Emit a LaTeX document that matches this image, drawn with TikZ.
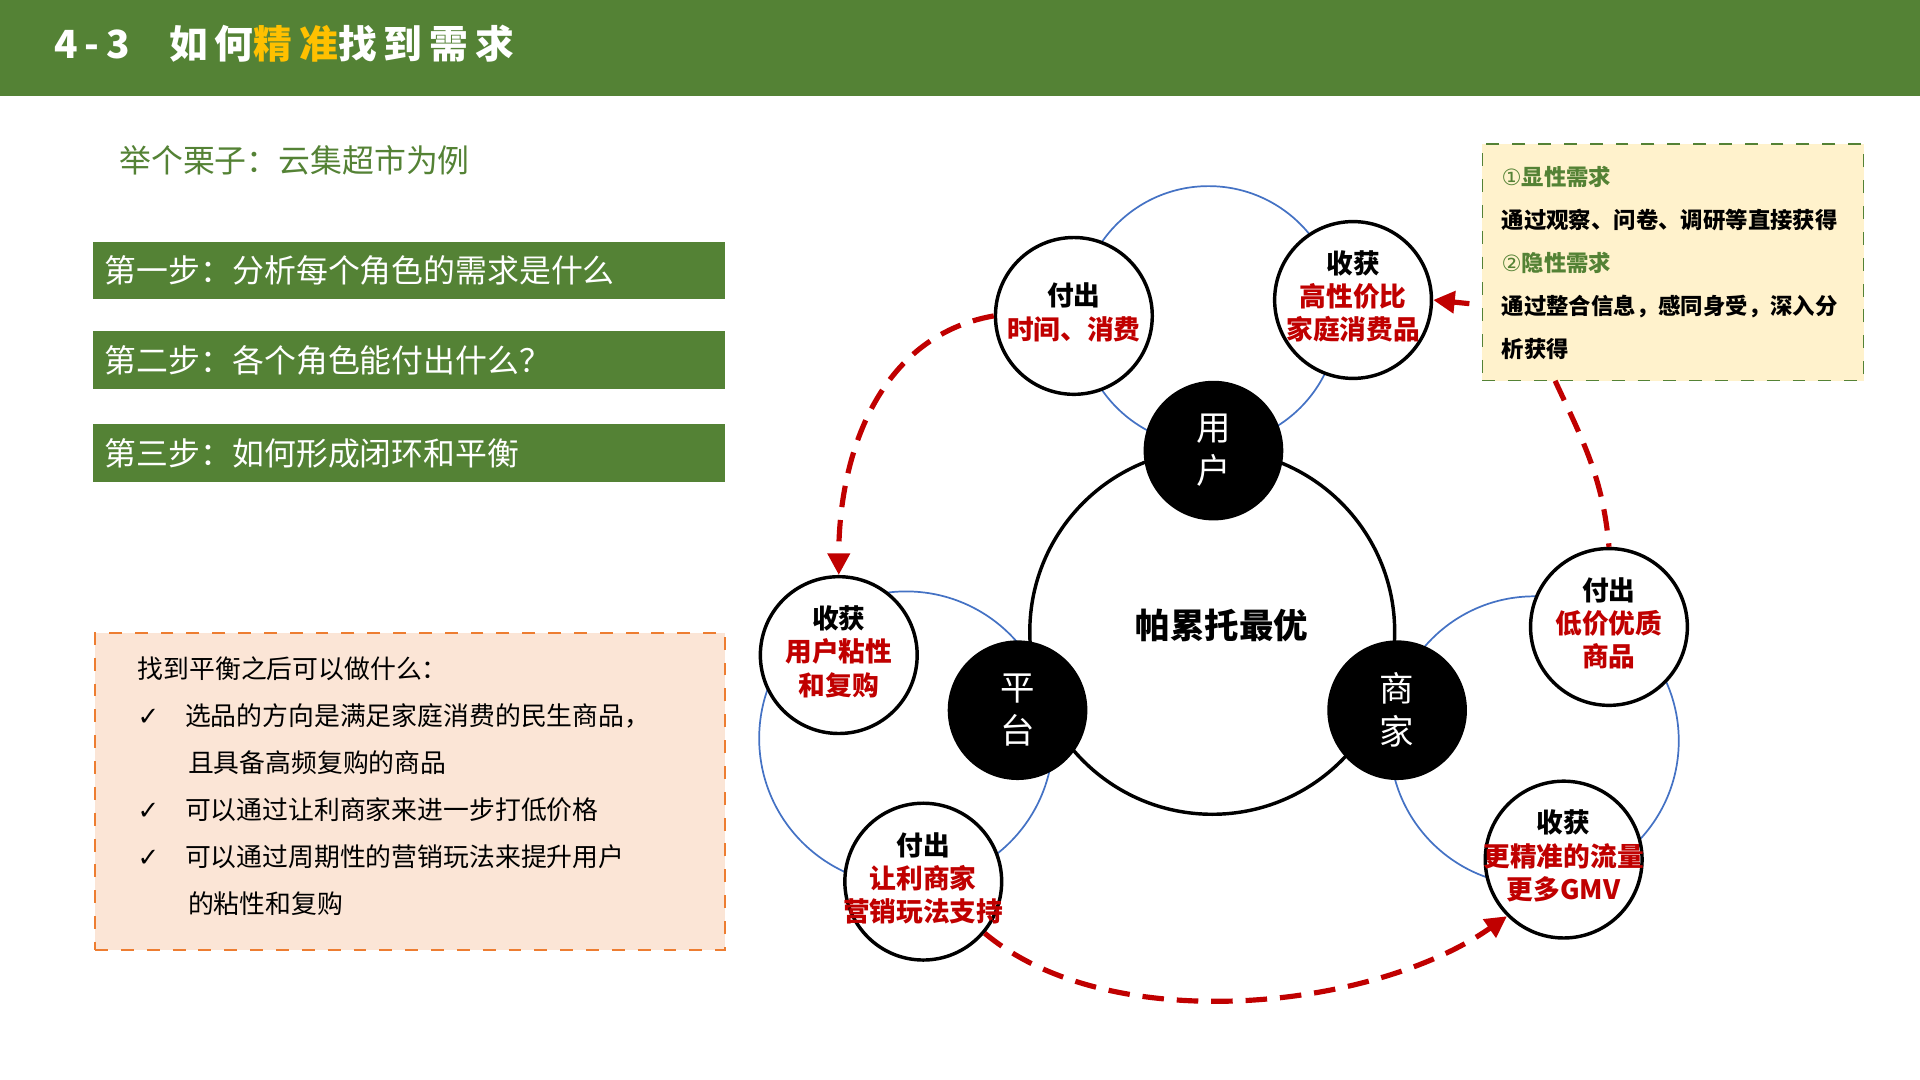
\documentclass[tikz,border=0pt]{standalone}
\usepackage{fontspec}
\setmainfont{Noto Sans CJK SC}
\newfontfamily\symfont{DejaVu Sans}
\usetikzlibrary{arrows.meta}
\definecolor{hdgreen}{RGB}{84,130,53}
\definecolor{hdgold}{RGB}{255,192,0}
\definecolor{ringblue}{RGB}{68,114,196}
\definecolor{deepred}{RGB}{192,0,0}
\definecolor{peach}{RGB}{251,229,214}
\definecolor{peachline}{RGB}{237,125,49}
\definecolor{paleyellow}{RGB}{255,242,204}
\newcommand{\inside}[1]{\makebox[0pt]{\renewcommand\arraystretch{0.92}\begin{tabular}{@{}c@{}}#1\end{tabular}}}
\tikzset{
  stepbar/.style = {% green step bars
    fill=hdgreen, text=white, minimum width=5.16cm, minimum height=0.47cm,
    anchor=west, inner sep=0pt, font=\fontsize{7.4}{9}\selectfont,
    text width=4.96cm, align=left
  },
  role/.style = {circle, fill=black, text=white, minimum size=1.14cm,
    inner sep=0pt, align=center, font=\fontsize{8}{10}\selectfont},
  deal/.style = {circle, fill=white, draw=black, thick, minimum size=1.28cm,
    inner sep=0pt, font=\bfseries\fontsize{6.2}{8.4}\selectfont},
  ring/.style = {draw=ringblue, thin},
  flow/.style = {draw=deepred, very thick, dash pattern=on 5pt off 3pt}
}
\begin{document}
\begin{tikzpicture}[x=0.01cm, y=-0.01cm]
  \useasboundingbox (0,0) rectangle (1568,882);
  % header
  \fill[hdgreen] (0,0) rectangle (1568,78);
  \node[anchor=west, text=white, font=\bfseries\fontsize{9}{11}\selectfont\addfontfeature{LetterSpace=18}] (title) at (32,36)
    {4-3\quad 如何\textcolor{hdgold}{精准}找到需求};
  \node[anchor=west, text=hdgreen, font=\fontsize{7.4}{9}\selectfont] (sub) at (85,131) {举个栗子：云集超市为例};
  % steps
  \node[stepbar] (s1) at (75,221) {第一步：分析每个角色的需求是什么};
  \node[stepbar] (s2) at (75,294) {第二步：各个角色能付出什么？};
  \node[stepbar] (s3) at (75,370) {第三步：如何形成闭环和平衡};
  % notes box
  \node[draw=peachline, dashed, fill=peach, anchor=north west, minimum width=5.14cm,
    minimum height=2.59cm, inner sep=0pt] (notes) at (77,516) {};
  \node[anchor=north west, align=left, font=\fontsize{6}{10.9}\selectfont] (notetext) at (100,524)
    {找到平衡之后可以做什么：\\
     {\symfont ✓}\hspace{1em}选品的方向是满足家庭消费的民生商品，\\
     \hspace{1.95em}且具备高频复购的商品\\
     {\symfont ✓}\hspace{1em}可以通过让利商家来进一步打低价格\\
     {\symfont ✓}\hspace{1em}可以通过周期性的营销玩法来提升用户\\
     \hspace{1.95em}的粘性和复购};
  % rings
  \draw[ring] (987,258) circle (106);
  \draw[ring] (740,603) circle (120);
  \draw[ring] (1253,605) circle (118);
  \draw[thick] (990,516) circle (149);
  \node[font=\bfseries\fontsize{8}{10}\selectfont] (pareto) at (998,511) {帕累托最优};
  % roles
  \node[role] (user) at (991,368) {用\\户};
  \node[role] (plat) at (831,580) {平\\台};
  \node[role] (shop) at (1141,580) {商\\家};
  % give and gain
  \node[deal] (ugive) at (877,258) {\inside{付出\\\textcolor{deepred}{时间、消费}}};
  \node[deal] (ugain) at (1105,245) {\inside{收获\\\textcolor{deepred}{高性价比}\\\textcolor{deepred}{家庭消费品}}};
  \node[deal] (pgain) at (685,535) {\inside{收获\\\textcolor{deepred}{用户粘性}\\\textcolor{deepred}{和复购}}};
  \node[deal] (pgive) at (754,720) {\inside{付出\\\textcolor{deepred}{让利商家}\\\textcolor{deepred}{营销玩法支持}}};
  \node[deal] (sgive) at (1314,512) {\inside{付出\\\textcolor{deepred}{低价优质}\\\textcolor{deepred}{商品}}};
  \node[deal] (sgain) at (1277,702) {\inside{收获\\\textcolor{deepred}{更精准的流量}\\\textcolor{deepred}{更多GMV}}};
  % demand box
  \node[draw=hdgreen, dashed, fill=paleyellow, anchor=north west, minimum width=3.11cm,
    minimum height=1.93cm, inner sep=0pt] (need) at (1210,117) {};
  \node[anchor=north west, align=left, font=\bfseries\fontsize{5.2}{10}\selectfont] (needtext) at (1214,123)
    {\textcolor{hdgreen}{\normalfont\symfont ①}\textcolor{hdgreen}{显性需求}\\
     通过观察、问卷、调研等直接获得\\
     \textcolor{hdgreen}{\normalfont\symfont ②}\textcolor{hdgreen}{隐性需求}\\
     通过整合信息，感同身受，深入分\\
     析获得};
  % loops
  \coordinate (boxout) at (1270,311);
  \coordinate (boxside) at (1200,248);
  \draw[flow, -{Triangle[length=5pt,width=5pt]}] (ugive.west) to[out=190, in=90] (pgain.north);
  \draw[flow, -{Triangle[length=5pt,width=5pt]}] (pgive.-40) to[out=-40, in=-145, looseness=0.8] (sgain.-135);
  \draw[flow] (boxout) to[out=-65, in=95] (sgive.north);
  \draw[flow, -{Triangle[length=5pt,width=5pt]}] (boxside) -- (ugain.east);
\end{tikzpicture}
\end{document}
